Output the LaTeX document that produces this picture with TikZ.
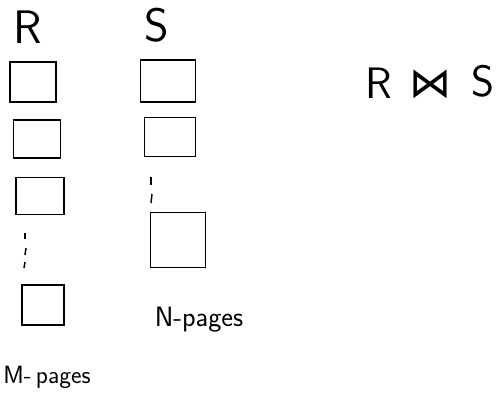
\documentclass[tikz,border=0pt]{standalone}
\usepackage{fontspec}
\newfontfamily\symfont{DejaVu Sans}
\begin{document}
\begin{tikzpicture}[x=1pt,y=-1pt,
  page/.style={draw,line width=1.8pt,inner sep=0pt,rectangle},
  lbl/.style={inner sep=0pt,font=\sffamily},
  gap/.style={line width=1.5pt}]
\useasboundingbox (0,0) rectangle (497,396);
% relation labels
\node[lbl,font=\sffamily\fontsize{47}{47}\selectfont] (R) at (28,27) {R};
\node[lbl,font=\sffamily\fontsize{47}{47}\selectfont] (S) at (157,25) {S};
% R pages
\node[page,minimum width=46pt,minimum height=40pt] (r1) at (33,82) {};
\node[page,minimum width=47pt,minimum height=38pt] (r2) at (37,139) {};
\node[page,minimum width=48pt,minimum height=37pt] (r3) at (40,196) {};
\node[page,minimum width=42pt,minimum height=40pt] (r4) at (43,305) {};
\coordinate (rd1) at (25,233); \coordinate (rd2) at (25,239);
\coordinate (rd3) at (26,248); \coordinate (rd4) at (25,255);
\coordinate (rd5) at (25,262); \coordinate (rd6) at (24,268);
\draw[gap] (rd1) -- (rd2); \draw[gap] (rd3) -- (rd4); \draw[gap] (rd5) -- (rd6);
\node[lbl,font=\sffamily\fontsize{25}{25}\selectfont] (M) at (47,377) {M-\,pages};
% S pages
\node[page,minimum width=55pt,minimum height=42pt] (s1) at (168,81) {};
\node[page,minimum width=51pt,minimum height=39pt] (s2) at (170,137) {};
\node[page,minimum width=55pt,minimum height=55pt] (s3) at (178,240) {};
\coordinate (sd1) at (151,177); \coordinate (sd2) at (151,185);
\coordinate (sd3) at (152,194); \coordinate (sd4) at (151,203);
\draw[gap] (sd1) -- (sd2); \draw[gap] (sd3) -- (sd4);
\node[lbl,font=\sffamily\fontsize{28}{28}\selectfont] (N) at (199,320) {N-pages};
% join
\node[lbl,font=\sffamily\fontsize{44}{44}\selectfont] (JR) at (379,83) {R};
\node[lbl,font=\symfont\fontsize{42}{42}\selectfont] (J) at (430,84) {⋈};
\node[lbl,font=\sffamily\fontsize{44}{44}\selectfont] (JS) at (483,81) {S};
\end{tikzpicture}
\end{document}
